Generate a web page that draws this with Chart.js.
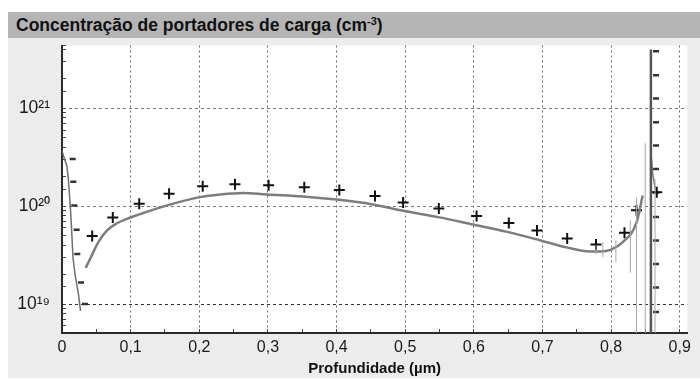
<!DOCTYPE html>
<html>
<head>
<meta charset="utf-8">
<script src="https://cdn.jsdelivr.net/npm/chart.js@4"></script>
<style>
  body { margin: 0; background: #fff; font-family: "Liberation Sans", Arial, sans-serif; }
  #panel { position: absolute; left: 8px; top: 12px; width: 692px; height: 366px; background: #ececec; }
  #titulo { height: 26px; background: #b5b5b5; font-weight: bold; font-size: 17.5px; color: #111;
            line-height: 27px; padding-left: 8px; white-space: nowrap; }
  #titulo sup { font-size: 11px; vertical-align: 6px; line-height: 0; }
  #wrap { position: relative; width: 692px; height: 340px; }
</style>
</head>
<body>
<div id="panel">
  <div id="titulo">Concentração de portadores de carga (cm<sup>-3</sup>)</div>
  <div id="wrap"><canvas id="grafico"></canvas></div>
</div>
<script>
// curva de lacunas (linha cinza)
const holeX = [0.0345, 0.041, 0.053, 0.065, 0.080, 0.094, 0.12, 0.157, 0.201, 0.23, 0.264, 0.298, 0.351, 0.400,
               0.451, 0.497, 0.550, 0.599, 0.647, 0.696, 0.735, 0.769, 0.785, 0.800, 0.817, 0.837, 0.846];
const holeY = [2.34e19, 2.9e19, 4.3e19, 5.6e19, 6.7e19, 7.4e19, 8.6e19, 1.04e20, 1.24e20, 1.32e20, 1.37e20, 1.32e20, 1.26e20, 1.17e20,
               1.05e20, 9.0e19, 7.7e19, 6.5e19, 5.5e19, 4.5e19, 3.8e19, 3.45e19, 3.45e19, 3.6e19, 4.3e19, 6.8e19, 1.29e20];

// pontos "+"
const plusX = [0.044, 0.074, 0.1125, 0.156, 0.205, 0.252, 0.301, 0.353, 0.404, 0.456, 0.497, 0.549,
               0.604, 0.651, 0.692, 0.736, 0.778, 0.8195, 0.837, 0.8665];
const plusY = [4.97e19, 7.67e19, 1.06e20, 1.34e20, 1.60e20, 1.68e20, 1.64e20, 1.56e20, 1.47e20, 1.27e20, 1.09e20, 9.5e19,
               7.95e19, 6.73e19, 5.64e19, 4.67e19, 4.06e19, 5.35e19, 9.1e19, 1.39e20];

// curva de electrões à esquerda
const elecLX = [0.0, 0.002, 0.007, 0.009, 0.012, 0.014, 0.016, 0.019, 0.024, 0.027];
const elecLY = [3.7e20, 3.3e20, 2.6e20, 2.0e20, 1.02e20, 5.8e19, 3.0e19, 2.0e19, 1.26e19, 8.5e18];

// pontos "-" à esquerda
const minusLX = [0.0156, 0.0165, 0.018, 0.0214, 0.0223, 0.0277, 0.0335];
const minusLY = [3.05e20, 1.78e20, 1.02e20, 5.75e19, 3.24e19, 1.66e19, 1.0e19];

// pontos "-" à direita
const minusRX = [0.8655, 0.8655, 0.8655, 0.8655, 0.8655, 0.8655, 0.8655, 0.8655, 0.8655, 0.8655, 0.8655, 0.8655];
const minusRY = [3.85e21, 2.19e21, 1.26e21, 7.24e20, 4.17e20, 2.40e20, 1.38e20, 7.76e19, 4.47e19, 2.57e19, 1.48e19, 8.3e18];

// curva de electrões à direita
const elecRX = [0.858, 0.858];
const elecRY = [4.0e21, 1.0e18];
const elecR2X = [0.858, 0.8605, 0.8645];
const elecR2Y = [3.6e20, 2.2e20, 1.45e20];

// barras de erro
const errX  = [0.778, 0.788, 0.807, 0.828, 0.837, 0.8497, 0.864];
const errLo = [3.2e19, 3.0e19, 2.7e19, 2.1e19, 1.0e18, 1.0e18, 1.0e18];
const errHi = [4.0e19, 4.3e19, 4.5e19, 7.2e19, 1.23e20, 4.4e20, 1.9e20];

const pts = (xs, ys) => xs.map((x, i) => ({ x, y: ys[i] }));

const supMap = { '0': '⁰', '1': '¹', '2': '²', '3': '³', '4': '⁴', '5': '⁵', '6': '⁶', '7': '⁷', '8': '⁸', '9': '⁹' };
const isPow10 = v => Math.abs(Math.log10(v) - Math.round(Math.log10(v))) < 1e-9;
const isTenth = v => Math.abs(v * 10 - Math.round(v * 10)) < 1e-6;

const plotBg = {
  id: 'plotBg',
  beforeDraw(chart) {
    const { ctx, chartArea: a } = chart;
    ctx.save();
    ctx.fillStyle = '#ffffff';
    ctx.fillRect(a.left, a.top, a.right - a.left, a.bottom - a.top);
    ctx.restore();
  }
};

const errSets = errX.map((x, i) => ({
  type: 'line',
  data: [{ x, y: errLo[i] }, { x, y: errHi[i] }],
  borderColor: '#a8a8a8',
  borderWidth: 1,
  pointRadius: 0
}));

new Chart(document.getElementById('grafico'), {
  type: 'scatter',
  data: {
    datasets: [
      ...errSets,
      { type: 'line', data: pts(holeX, holeY), borderColor: '#7d7d7d', borderWidth: 2.5,
        pointRadius: 0, tension: 0.4, cubicInterpolationMode: 'monotone' },
      { type: 'line', data: pts(elecLX, elecLY), borderColor: '#6e6e6e', borderWidth: 1.5, pointRadius: 0 },
      { type: 'line', data: pts(elecRX, elecRY), borderColor: '#555555', borderWidth: 2.5, pointRadius: 0 },
      { type: 'line', data: pts(elecR2X, elecR2Y), borderColor: '#777777', borderWidth: 1.5, pointRadius: 0 },
      { data: pts(plusX, plusY), pointStyle: 'cross', pointRadius: 5.5, borderWidth: 2, borderColor: '#111', backgroundColor: '#111' },
      { data: pts(minusLX, minusLY), pointStyle: 'line', pointRadius: 3, borderWidth: 2.5, borderColor: '#333', backgroundColor: '#333' },
      { data: pts(minusRX, minusRY), pointStyle: 'line', pointRadius: 3, borderWidth: 2.5, borderColor: '#333', backgroundColor: '#333' }
    ]
  },
  options: {
    responsive: true,
    maintainAspectRatio: false,
    animation: false,
    layout: { padding: { left: 0, right: 12, top: 0, bottom: 0 } },
    plugins: { legend: { display: false }, tooltip: { enabled: false } },
    scales: {
      x: {
        type: 'linear',
        min: 0,
        max: 0.911,
        afterFit: s => { s.height = 45; },
        ticks: {
          stepSize: 0.05,
          includeBounds: false,
          autoSkip: false,
          maxRotation: 0,
          padding: 9,
          color: '#1a1a1a',
          font: { family: 'Liberation Sans', size: 16 },
          callback: v => isTenth(v) ? (v === 0 ? '0' : v.toFixed(1).replace('.', ',')) : ''
        },
        grid: {
          color: c => (c.tick && isTenth(c.tick.value) && c.tick.value > 0) ? '#666' : 'rgba(0,0,0,0)',
          tickColor: '#444',
          tickLength: -4,
          lineWidth: 1
        },
        border: { color: '#2a2a2a', width: 2, dash: [2, 3] },
        title: {
          display: true,
          text: 'Profundidade (µm)',
          color: '#111',
          font: { family: 'Liberation Sans', size: 15, weight: 'bold' },
          padding: { top: 0, bottom: 0 }
        }
      },
      y: {
        type: 'logarithmic',
        min: 5.06e18,
        max: 4.4e21,
        afterFit: s => { s.width = 54; s.paddingTop = 0; s.paddingBottom = 0; },
        ticks: {
          autoSkip: false,
          padding: 16,
          color: '#1a1a1a',
          font: { family: 'Liberation Sans', size: 17.5 },
          callback: v => isPow10(v) ? '10' + String(Math.round(Math.log10(v))).split('').map(d => supMap[d]).join('') : ''
        },
        grid: {
          color: c => (c.tick && isPow10(c.tick.value)) ? (c.tick.value === 1e19 ? '#333' : '#777') : 'rgba(0,0,0,0)',
          tickColor: '#444',
          tickLength: -4,
          lineWidth: 1
        },
        border: { color: '#2a2a2a', width: 2, dash: [3, 3] }
      }
    }
  },
  plugins: [plotBg]
});
</script>
</body>
</html>
